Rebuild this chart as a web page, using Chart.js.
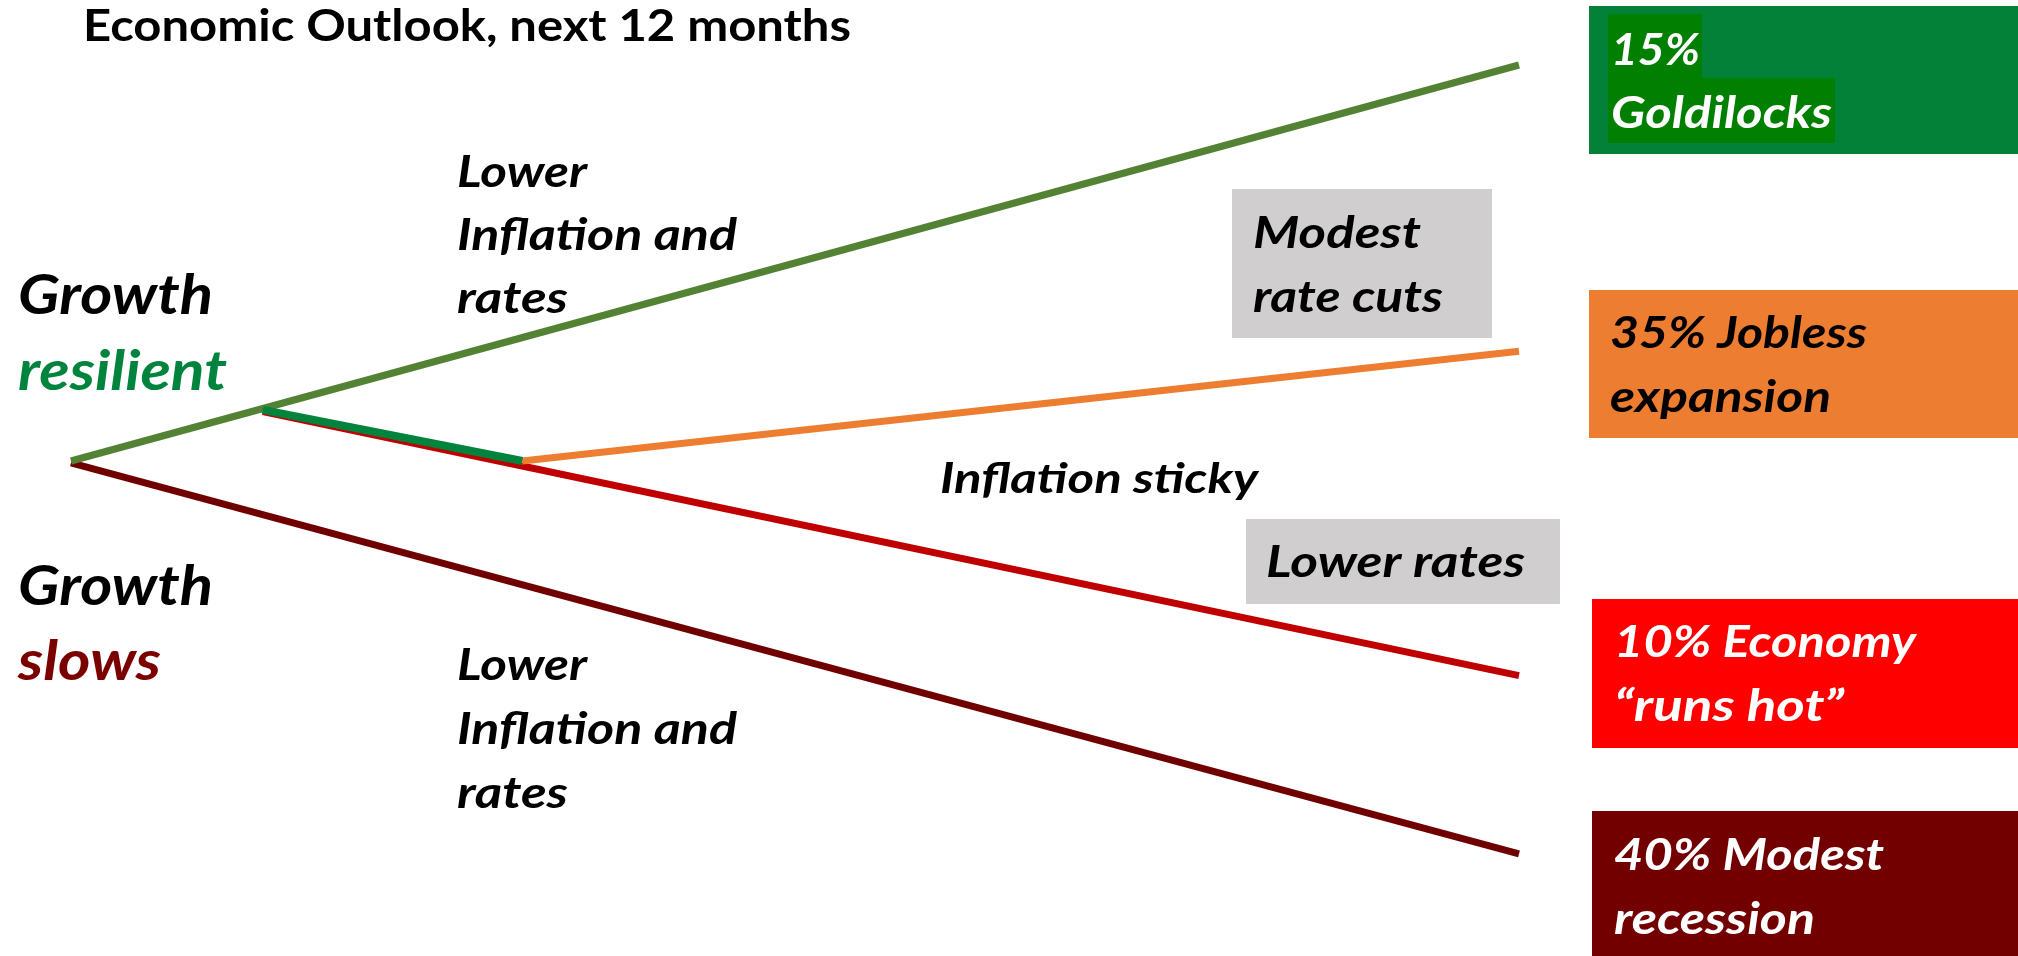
<!DOCTYPE html>
<html>
<head>
<meta charset="utf-8">
<title>Economic Outlook, next 12 months</title>
<script src="https://cdn.jsdelivr.net/npm/chart.js@4.4.1/dist/chart.umd.min.js"></script>
<style>
    html, body { margin: 0; padding: 0; background: #ffffff; }
    #wrap { width: 2018px; height: 956px; position: relative; }
</style>
</head>
<body>
<div id="wrap"><canvas id="outlookChart"></canvas></div>
<script>
/* Scenario tree: x = months ahead, y = relative growth path (arbitrary units). */

const goldilocksX = [0, 12];
const goldilocksY = [0, 10.0];

const sharedX = [1.59, 3.74];      // resilient growth, inflation sticky
const sharedY = [1.29, 0];

const joblessX = [3.74, 12];
const joblessY = [0, 2.77];

const runsHotX = [1.59, 12];
const runsHotY = [1.25, -5.42];

const recessionX = [0, 12];
const recessionY = [-0.05, -9.92];

const scenarioProb = [15, 35, 10, 40];
const scenarioLine1 = ['', 'Jobless', 'Economy', 'Modest'];
const scenarioLine2 = ['Goldilocks', 'expansion', '\u201cruns hot\u201d', 'recession'];

const FONT = 'Lato';
const CAP = 0.7165; // Lato cap height / em

function pts(xs, ys) {
    return xs.map((x, i) => ({ x, y: ys[i] }));
}

// Lower `order` ends up on top.
function path(label, xs, ys, color, width, order) {
    return {
        label,
        data: pts(xs, ys),
        showLine: true,
        borderColor: color,
        backgroundColor: color,
        borderWidth: width,
        pointRadius: 0,
        borderCapStyle: 'butt',
        tension: 0,
        order
    };
}

// Text is squeezed horizontally to the width it has in the slide (Calibri is narrow).
function fitText(ctx, text, x, y, cap, width, color, italic) {
    const size = cap / CAP;
    ctx.font = `${italic ? 'italic ' : ''}bold ${size}px ${FONT}`;
    ctx.fillStyle = color;
    ctx.textBaseline = 'alphabetic';
    ctx.textAlign = 'left';
    const w = ctx.measureText(text).width;
    ctx.save();
    ctx.translate(x, y);
    ctx.scale(width / w, 1);
    ctx.fillText(text, 0, 0);
    ctx.restore();
}

const boxes = [
    { x: 1589, y: 6, w: 429, h: 148, color: '#038139' },
    { x: 1608, y: 14, w: 94, h: 64, color: '#007f00' },
    { x: 1608, y: 78, w: 227, h: 65, color: '#007f00' },
    { x: 1589, y: 290, w: 429, h: 148, color: '#ed7d31' },
    { x: 1592, y: 599, w: 426, h: 149, color: '#ff0000' },
    { x: 1592, y: 811, w: 426, h: 145, color: '#720000' },
    { x: 1232, y: 189, w: 260, h: 149, color: '#d0cece' },
    { x: 1246, y: 519, w: 314, h: 85, color: '#d0cece' }
];

function scenarioText(i, row) {
    if (row === 0) return `${scenarioProb[i]}%${scenarioLine1[i] ? ' ' + scenarioLine1[i] : ''}`;
    return scenarioLine2[i];
}

const labels = [
    { t: 'Economic Outlook, next 12 months', x: 83, y: 41, cap: 31, w: 768, c: '#000000', it: false },
    { t: 'Growth', x: 18, y: 314, cap: 40, w: 195, c: '#000000', it: true },
    { t: 'resilient', x: 18, y: 390, cap: 40, w: 209, c: '#00843d', it: true },
    { t: 'Growth', x: 18, y: 605, cap: 40, w: 195, c: '#000000', it: true },
    { t: 'slows', x: 18, y: 680, cap: 40, w: 143, c: '#7b0000', it: true },
    { t: 'Lower', x: 457, y: 187, cap: 31, w: 130, c: '#000000', it: true },
    { t: 'Inflation and', x: 457, y: 250, cap: 31, w: 280, c: '#000000', it: true },
    { t: 'rates', x: 457, y: 313, cap: 31, w: 111, c: '#000000', it: true },
    { t: 'Lower', x: 457, y: 680, cap: 31, w: 130, c: '#000000', it: true },
    { t: 'Inflation and', x: 457, y: 744, cap: 31, w: 280, c: '#000000', it: true },
    { t: 'rates', x: 457, y: 808, cap: 31, w: 111, c: '#000000', it: true },
    { t: 'Inflation sticky', x: 940, y: 493, cap: 30, w: 318, c: '#000000', it: true },
    { t: 'Modest', x: 1253, y: 248, cap: 31, w: 168, c: '#000000', it: true },
    { t: 'rate cuts', x: 1253, y: 312, cap: 31, w: 190, c: '#000000', it: true },
    { t: 'Lower rates', x: 1266, y: 577, cap: 31, w: 259, c: '#000000', it: true },
    { t: scenarioText(0, 0), x: 1611, y: 65, cap: 32, w: 89, c: '#ffffff', it: true },
    { t: scenarioText(0, 1), x: 1611, y: 128, cap: 32, w: 221, c: '#ffffff', it: true },
    { t: scenarioText(1, 0), x: 1610, y: 348, cap: 32, w: 257, c: '#000000', it: true },
    { t: scenarioText(1, 1), x: 1610, y: 412, cap: 32, w: 221, c: '#000000', it: true },
    { t: scenarioText(2, 0), x: 1614, y: 657, cap: 32, w: 302, c: '#ffffff', it: true },
    { t: scenarioText(2, 1), x: 1614, y: 721, cap: 32, w: 230, c: '#ffffff', it: true },
    { t: scenarioText(3, 0), x: 1614, y: 870, cap: 32, w: 270, c: '#ffffff', it: true },
    { t: scenarioText(3, 1), x: 1614, y: 934, cap: 32, w: 201, c: '#ffffff', it: true }
];

const slidePlugin = {
    id: 'slide',
    beforeDatasetsDraw(chart) {
        const ctx = chart.ctx;
        ctx.save();
        boxes.forEach(b => {
            ctx.fillStyle = b.color;
            ctx.fillRect(b.x, b.y, b.w, b.h);
        });
        ctx.restore();
    },
    afterDraw(chart) {
        const ctx = chart.ctx;
        ctx.save();
        labels.forEach(l => fitText(ctx, l.t, l.x, l.y, l.cap, l.w, l.c, l.it));
        ctx.restore();
    }
};

new Chart(document.getElementById('outlookChart'), {
    type: 'scatter',
    data: {
        datasets: [
            path('Resilient, inflation sticky', sharedX, sharedY, '#00843d', 8, 0),
            path('Goldilocks', goldilocksX, goldilocksY, '#548235', 7, 1),
            path('Jobless expansion', joblessX, joblessY, '#ed7d31', 7, 1),
            path('Economy runs hot', runsHotX, runsHotY, '#c00000', 7, 2),
            path('Modest recession', recessionX, recessionY, '#700000', 7, 2)
        ]
    },
    options: {
        responsive: true,
        maintainAspectRatio: false,
        animation: false,
        layout: { padding: 0 },
        plugins: { legend: { display: false }, tooltip: { enabled: false } },
        scales: {
            x: { type: 'linear', display: false, min: -0.5884, max: 16.1354 },
            y: { type: 'linear', display: false, min: -12.5, max: 11.6414 }
        }
    },
    plugins: [slidePlugin]
});
</script>
</body>
</html>
